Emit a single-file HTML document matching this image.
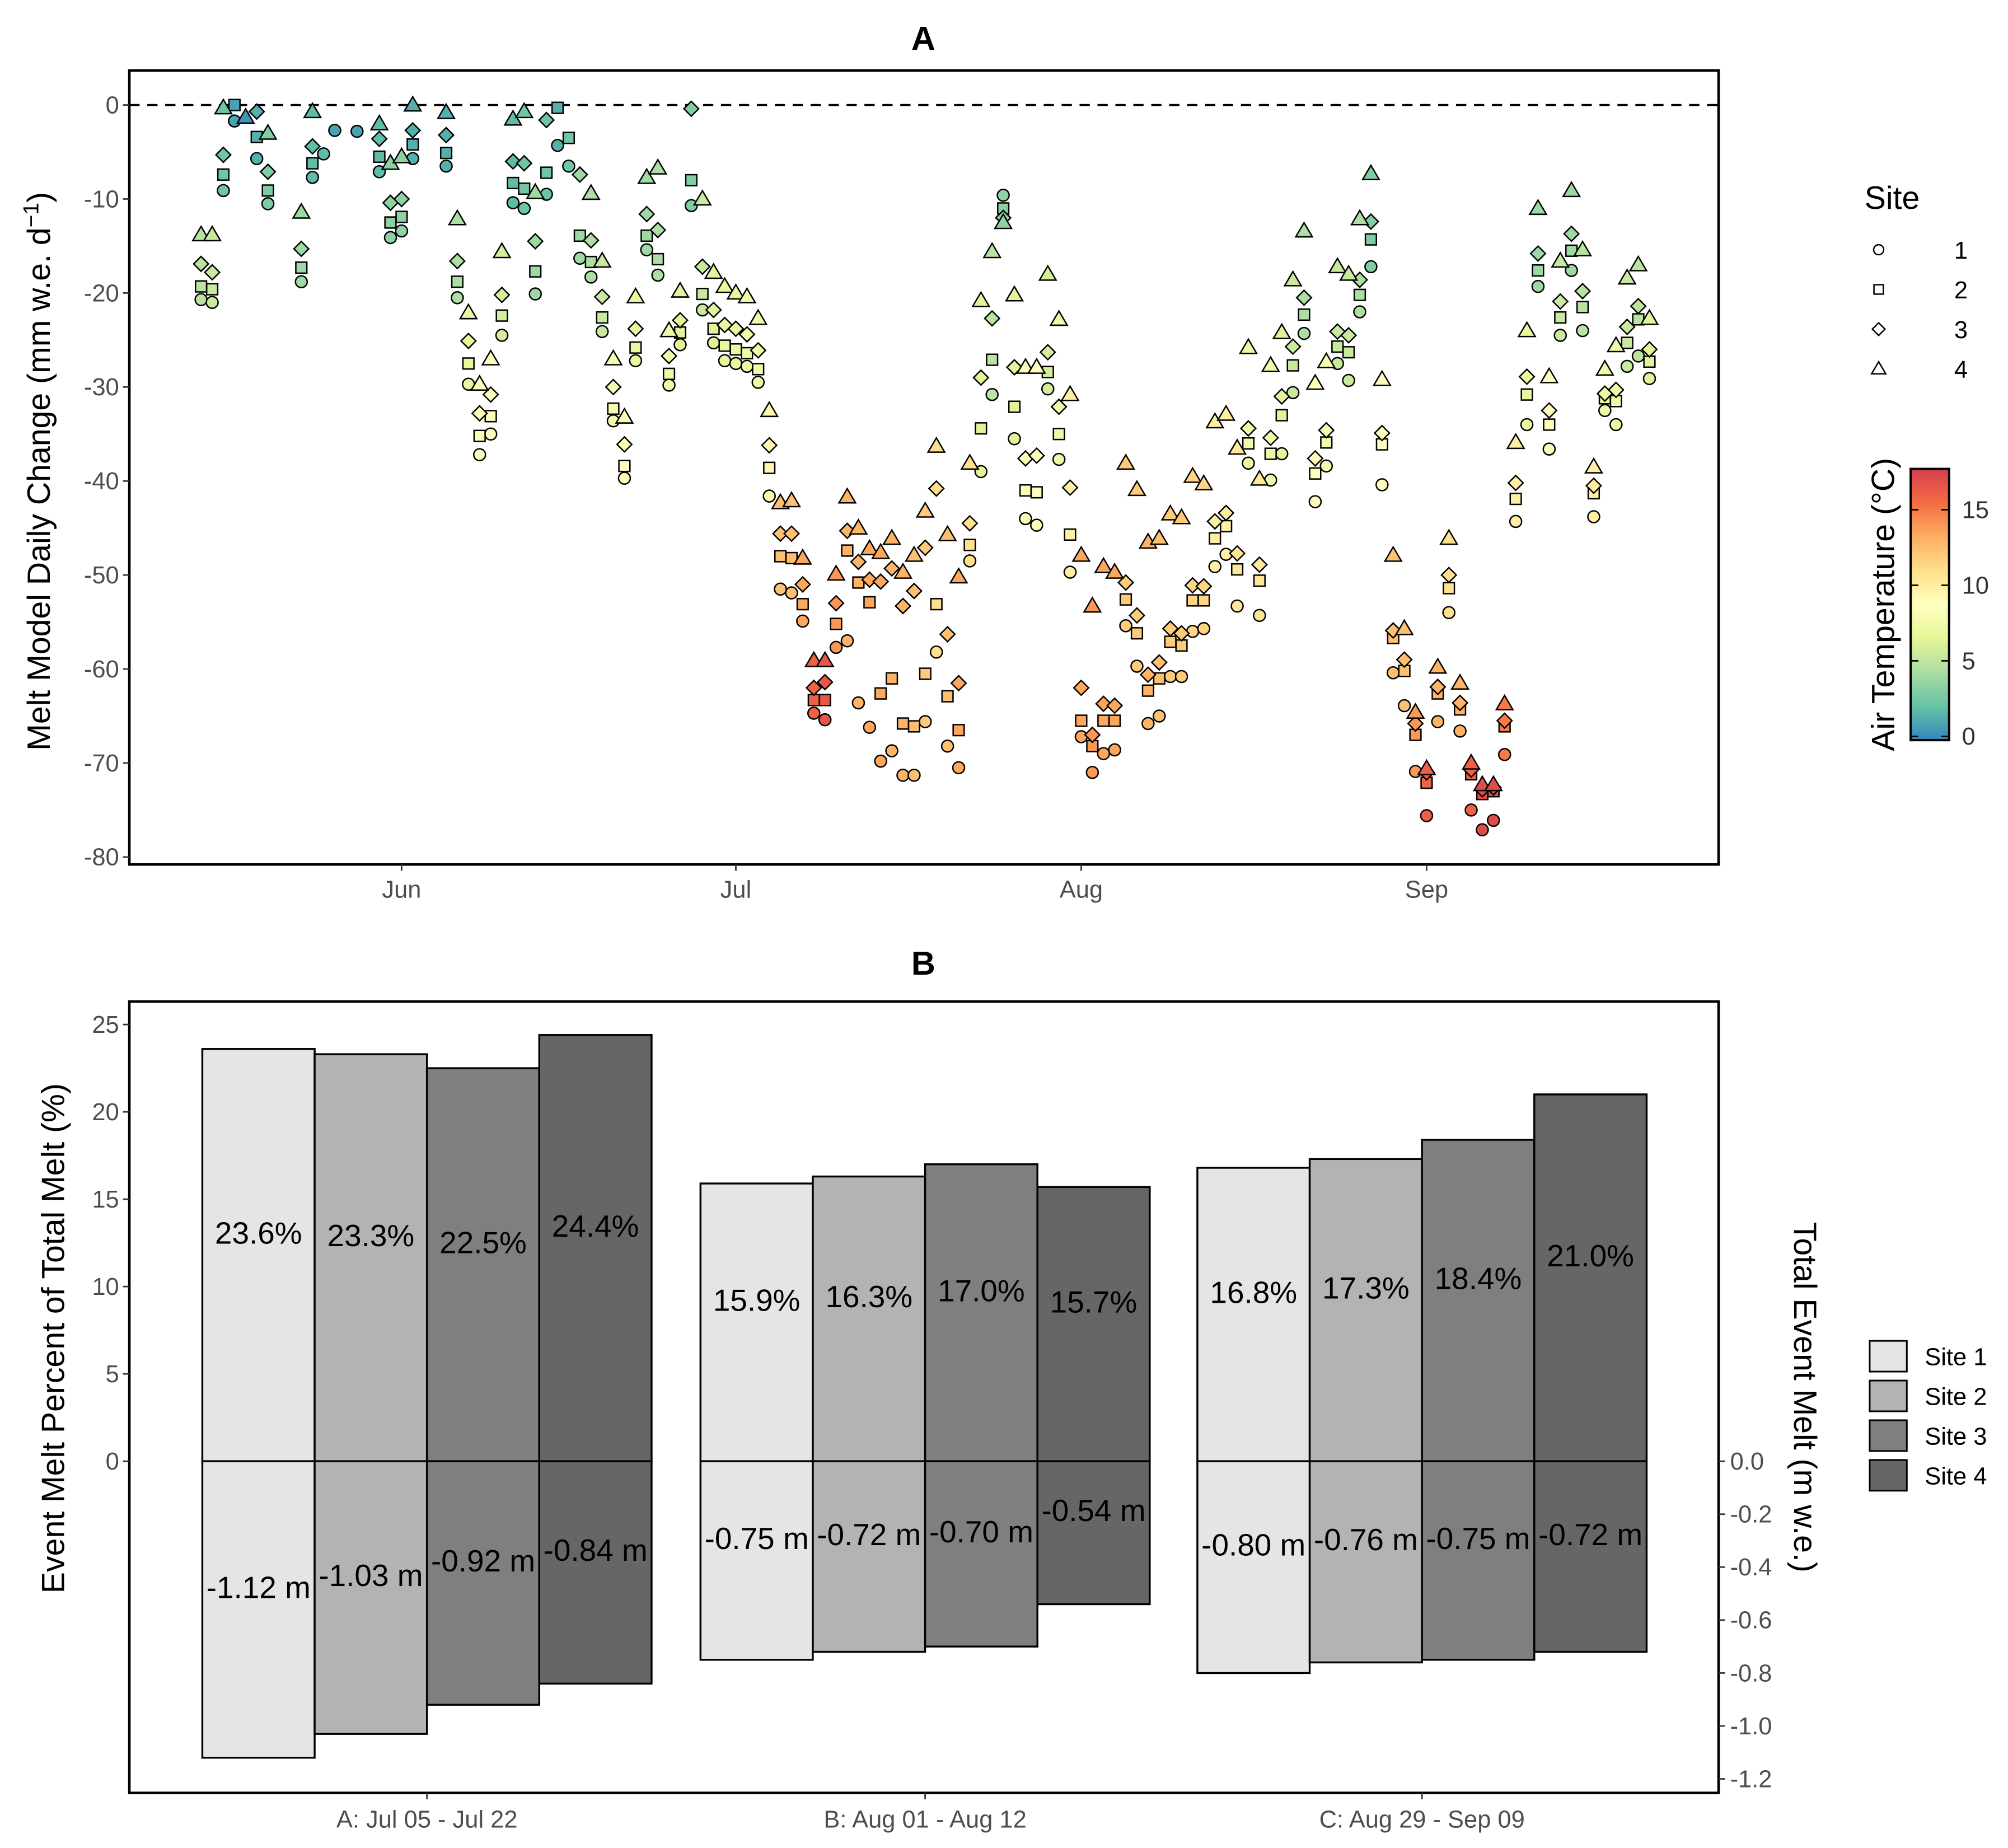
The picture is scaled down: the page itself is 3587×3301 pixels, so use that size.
<!DOCTYPE html>
<html><head><meta charset="utf-8">
<style>
html,body{margin:0;padding:0;background:#fff;}
svg{display:block;font-family:"Liberation Sans",Arial,sans-serif;}
</style></head>
<body>
<svg id="chart" width="3587" height="3301" viewBox="0 0 1568 1443" preserveAspectRatio="none" xmlns="http://www.w3.org/2000/svg">
<rect x="0" y="0" width="1568" height="1443" fill="#fff"/>
<g id="panelA"></g>
<g id="panelB"></g>
</svg>
<script>
// ---------- Panel A data ----------
const doys = [134,135,136,137,138,139,140,143,144,145,146,148,150,151,152,153,156,157,158,159,160,161,162,163,164,165,166,167,168,169,170,171,172,173,174,175,176,177,178,179,180,181,182,183,184,185,186,187,188,189,190,191,192,193,194,195,196,197,198,199,200,201,202,203,204,205,206,207,208,209,210,211,212,213,214,215,216,217,218,219,220,221,222,223,224,225,226,227,228,229,230,231,232,233,234,235,236,237,238,239,240,241,242,243,244,245,246,247,248,249,250,251,252,253,254,255,256,257,258,259,260,261,262,263,264];
const site1 = [-20.7,-21.0,-9.1,-1.7,null,-5.7,-10.5,-18.8,-7.7,-5.2,-2.7,-2.8,-7.1,-14.1,-13.4,-5.7,-6.5,-20.5,-29.7,-37.2,-35.0,-24.5,-10.4,-11.0,-20.1,-9.5,-4.3,-6.5,-16.3,-18.3,-24.1,-33.6,-39.7,-27.2,-15.4,-18.1,-29.8,-25.5,-10.7,-21.8,-25.3,-27.2,-27.5,-27.8,-29.5,-41.6,-51.5,-51.9,-54.9,-64.7,-65.4,-57.7,-57.0,-63.6,-66.2,-69.8,-68.7,-71.3,-71.3,-65.6,-58.2,-68.2,-70.5,-48.5,-39.0,-30.8,-9.6,-35.5,-44.0,-44.7,-30.2,-37.7,-49.7,-67.2,-71.0,-69.0,-68.6,-55.4,-59.7,-65.8,-65.0,-60.8,-60.8,-56.0,-55.7,-49.1,-47.8,-53.3,-38.1,-54.3,-39.9,-37.1,-30.6,-24.3,-42.2,-38.4,-27.5,-29.3,-22.0,-17.2,-40.4,-60.4,-63.9,-70.9,-75.6,-65.6,-54.0,-66.6,-75.0,-77.1,-76.1,-69.1,-44.3,-34.0,-19.3,-36.6,-24.5,-17.6,-24.0,-43.8,-32.5,-34.0,-27.8,-26.7,-29.1];
const site2 = [-19.3,-19.6,-7.4,0,null,-3.4,-9.1,-17.3,-6.2,null,null,null,-5.5,-12.5,-11.9,-4.2,-5.1,-18.8,-27.5,-35.2,-33.1,-22.4,-8.3,-8.9,-17.7,-7.2,-0.3,-3.5,-13.9,-16.7,-22.6,-32.3,-38.4,-25.8,-13.9,-16.4,-28.6,-24.2,-8.0,-20.1,-23.8,-25.6,-26.0,-26.4,-28.1,-38.6,-48.0,-48.2,-53.1,-63.3,-63.3,-55.2,-47.4,-50.8,-52.9,-62.6,-61.0,-65.8,-66.1,-60.5,-53.1,-62.9,-66.5,-46.8,-34.4,-27.1,-11.0,-32.1,-41.0,-41.2,-28.4,-35.0,-45.7,-65.5,-68.2,-65.5,-65.5,-52.6,-56.2,-62.3,-61.0,-57.1,-57.5,-52.7,-52.7,-46.1,-44.8,-49.4,-36.0,-50.6,-37.1,-33.0,-27.7,-22.3,-39.2,-35.9,-25.7,-26.3,-20.2,-14.3,-36.1,-56.7,-60.2,-67.0,-72.1,-62.6,-51.4,-64.3,-71.2,-73.3,-73.0,-66.1,-41.9,-30.8,-17.6,-34.0,-22.6,-15.5,-21.5,-41.3,-31.2,-31.5,-25.3,-22.8,-27.3];
const site3 = [-16.9,-17.8,-5.3,null,null,-0.7,-7.1,-15.3,-4.4,null,null,null,-3.6,-10.4,-10.0,-2.7,-3.2,-16.6,-25.1,-32.8,-30.8,-20.2,-6.0,-6.2,-14.5,-1.6,null,null,-7.4,-14.4,-20.4,-30.0,-36.1,-23.8,-11.6,-13.3,-26.7,-22.9,-0.4,-17.2,-21.8,-23.4,-23.8,-24.4,-26.1,-36.2,-45.6,-45.6,-51.0,-62.0,-61.4,-53.0,-45.3,-48.6,-50.5,-50.7,-49.3,-53.3,-51.7,-47.1,-40.8,-56.3,-61.5,-44.5,-29.0,-22.7,-12.0,-27.9,-37.6,-37.3,-26.3,-32.1,-40.7,-62.0,-67.0,-63.7,-63.9,-50.8,-54.3,-60.6,-59.3,-55.7,-56.2,-51.1,-51.2,-44.3,-43.4,-47.7,-34.4,-48.9,-35.4,-31.0,-25.7,-20.5,-37.6,-34.6,-24.1,-24.5,-18.6,-12.4,-34.9,-55.9,-59.0,-65.8,-71.0,-61.9,-50.0,-63.6,-70.7,-72.8,-72.6,-65.5,-40.2,-28.9,-15.8,-32.5,-20.9,-13.7,-19.8,-40.5,-30.7,-30.3,-23.6,-21.4,-26.0];
const site4 = [-13.8,-13.8,-0.3,null,-1.3,null,-3.0,-11.4,-0.7,null,null,null,-2.0,-6.2,-5.5,0,-0.8,-12.1,-22.1,-29.7,-27.0,-15.6,-1.5,-0.7,-9.3,null,null,null,null,-9.4,-16.6,-27.0,-33.2,-20.4,-7.7,-6.7,-24.0,-19.8,null,-10.0,-17.8,-19.3,-20.0,-20.4,-22.7,-32.5,-42.3,-42.1,-48.2,-59.1,-59.1,-49.9,-41.7,-45.0,-47.2,-47.6,-46.1,-49.7,-47.9,-43.2,-36.3,-45.7,-50.2,-38.1,-20.8,-15.6,-12.5,-20.2,-27.9,-27.9,-18.0,-22.8,-30.8,-47.9,-53.3,-49.1,-49.7,-38.1,-40.9,-46.5,-46.1,-43.5,-43.9,-39.5,-40.3,-33.7,-32.9,-36.5,-25.8,-39.8,-27.7,-24.2,-18.6,-13.4,-29.6,-27.3,-17.2,-18.0,-12.1,-7.3,-29.2,-47.9,-55.7,-64.6,-70.6,-59.8,-46.1,-61.5,-70.0,-72.3,-72.3,-63.7,-35.9,-24.0,-11.0,-28.9,-16.6,-9.1,-15.4,-38.5,-28.1,-25.6,-18.4,-17.0,-22.7];
const airTemp = [5,5.5,2.5,1,0.5,1.5,3,4,2,2,1,1,2,3.5,3.5,1.5,1.5,4.5,7,8.5,8.5,6,2,2.5,4,2.5,1.5,2.5,4,4.5,5.5,8,9,7,4,4.5,7.5,6.5,3,5.5,6.5,7,7,7.5,7.5,9.5,12.5,12.5,13.5,16,16.5,14,13,13,13.5,13.5,13,13,12.5,12,11,12.5,13.5,11,6.5,5,3.5,6.5,8.5,8.5,6,7.5,10,13.5,14,13.5,13.5,12,12,13,12.5,12,12,11.5,11.5,10,10,10.5,7.5,10.5,7.5,6.5,5.5,4.5,9,8,5.5,5.5,4.5,3,9,12.5,12.5,14,16,13,11,13,16,17,17,15,10,7,4,8.5,5.5,4,5,10,7.5,7.5,5.5,5,6.5];
const yTicksA = [0,-10,-20,-30,-40,-50,-60,-70,-80];
const monthTicks = [152,182,213,244];
const monthLabels = ["Jun","Jul","Aug","Sep"];
const colorbarTicks = [0,5,10,15];

// ---------- Panel B data ----------
const eventLabels = ["A: Jul 05 - Jul 22","B: Aug 01 - Aug 12","C: Aug 29 - Sep 09"];
const pctSite1 = [23.6,15.9,16.8];
const pctSite2 = [23.3,16.3,17.3];
const pctSite3 = [22.5,17.0,18.4];
const pctSite4 = [24.4,15.7,21.0];
const meltSite1 = [-1.12,-0.75,-0.80];
const meltSite2 = [-1.03,-0.72,-0.76];
const meltSite3 = [-0.92,-0.70,-0.75];
const meltSite4 = [-0.84,-0.54,-0.72];
const yTicksLeft = [0,5,10,15,20,25];
const yTicksRight = [0.0,-0.2,-0.4,-0.6,-0.8,-1.0,-1.2];
const siteNames = ["Site 1","Site 2","Site 3","Site 4"];
</script>
<script>
const NS="http://www.w3.org/2000/svg";
function mk(tag, parent, attrs, text){
  const e=document.createElementNS(NS,tag);
  for(const k in attrs) e.setAttribute(k,attrs[k]);
  if(text!==undefined) e.textContent=text;
  parent.appendChild(e); return e;
}
const A={l:101,r:1342,t:55,b:675};
const xA = d => 157 + (d-134)*8.70;
const yA = v => 82 - v*7.34;
const tMax=17.7;
const pal=["#3288BD","#66C2A5","#ABDDA4","#E6F598","#FFFFBF","#FEE08B","#FDAE61","#F46D43","#D53E4F"];
function hex2rgb(h){return [1,3,5].map(i=>parseInt(h.substr(i,2),16));}
function tColor(t){
  let f=Math.max(0,Math.min(1,t/tMax))*(pal.length-1);
  let i=Math.min(Math.floor(f),pal.length-2), u=f-i;
  const a=hex2rgb(pal[i]), b=hex2rgb(pal[i+1]);
  return "rgb("+a.map((c,k)=>Math.round(c+(b[k]-c)*u)).join(",")+")";
}
const TICK=19;
const gA=document.getElementById('panelA');
let el;
el=mk('text',gA,{x:721,y:39,'text-anchor':'middle','font-size':26,'font-weight':'bold'},'A');


el=mk('rect',gA,{x:A.l,y:A.t,width:A.r-A.l,height:A.b-A.t,fill:'#fff',stroke:'#000','stroke-width':2});


el=mk('line',gA,{x1:A.l,x2:A.r,y1:yA(0),y2:yA(0),stroke:'#000','stroke-width':1.6,'stroke-dasharray':'8,6'});


yTicksA.forEach(v=>{
  const t=mk('line',gA,{x1:A.l-5,x2:A.l,y1:yA(v),y2:yA(v),stroke:'#333','stroke-width':1.2});
  
  
  const l=mk('text',gA,{x:A.l-8,y:yA(v)+6.5,'text-anchor':'end','font-size':TICK,fill:'#4D4D4D'},String(v));
  
  
});
monthTicks.forEach((d,i)=>{
  const t=mk('line',gA,{x1:xA(d),x2:xA(d),y1:A.b,y2:A.b+5,stroke:'#333','stroke-width':1.2});
  
  
  const l=mk('text',gA,{x:xA(d),y:701,'text-anchor':'middle','font-size':TICK,fill:'#4D4D4D'},monthLabels[i]);
  
  
});
el=mk('text',gA,{transform:'translate(39,368) rotate(-90)','text-anchor':'middle','font-size':25});


el.innerHTML='Melt Model Daily Change (mm w.e. d<tspan dy="-9" font-size="17">−1</tspan><tspan dy="9">)</tspan>';

function marker(parent,site,cx,cy,fill,k){
  k=k||1;
  let e;
  if(site===0) e=mk('circle',parent,{cx:cx,cy:cy,r:4.6*k});
  else if(site===1) e=mk('rect',parent,{x:cx-4.3*k,y:cy-4.3*k,width:8.6*k,height:8.6*k});
  else if(site===2) e=mk('polygon',parent,{points:`${cx},${cy-5.8*k} ${cx+5.8*k},${cy} ${cx},${cy+5.8*k} ${cx-5.8*k},${cy}`});
  else e=mk('polygon',parent,{points:`${cx},${cy-6.5*k} ${cx+6.5*k},${cy+4.6*k} ${cx-6.5*k},${cy+4.6*k}`});
  e.setAttribute('fill',fill); e.setAttribute('stroke','#000'); e.setAttribute('stroke-width',1.1);
  return e;
}
const series=[site1,site2,site3,site4];
const ptsG=mk('g',gA,{});


[0,1,2,3].forEach(s=>{
  doys.forEach((d,i)=>{
    const v=series[s][i];
    if(v===null||v===undefined) return;
    const p=marker(ptsG,s,xA(d),yA(v),tColor(airTemp[i]));
    
    
  });
});
el=mk('text',gA,{x:1456,y:163,'font-size':25},'Site');


const legY=[195,226,257,288];
legY.forEach((y,i)=>{
  const m=marker(gA,i,1467,y,'none',0.85);
  
  
  const l=mk('text',gA,{x:1526,y:y+7,'font-size':19},String(i+1));
  
  
});
const cb={x:1492,w:30};
const yCb = t => 575 - t*11.8;
const defs=mk('defs',gA,{});
const grad=mk('linearGradient',defs,{id:'cbgrad',x1:0,y1:1,x2:0,y2:0});
pal.forEach((c,i)=>mk('stop',grad,{offset:(i/(pal.length-1)),'stop-color':c}));
el=mk('rect',gA,{x:cb.x,y:yCb(tMax),width:cb.w,height:yCb(-0.25)-yCb(tMax),fill:'url(#cbgrad)',stroke:'#000','stroke-width':1.8});


colorbarTicks.forEach(t=>{
  mk('line',gA,{x1:cb.x,x2:cb.x+6,y1:yCb(t),y2:yCb(t),stroke:'#000','stroke-width':1.2});
  mk('line',gA,{x1:cb.x+cb.w-6,x2:cb.x+cb.w,y1:yCb(t),y2:yCb(t),stroke:'#000','stroke-width':1.2});
  const l=mk('text',gA,{x:1532,y:yCb(t)+6.5,'font-size':TICK,fill:'#333'},String(t));
  
  
});
el=mk('text',gA,{transform:'translate(1479,472) rotate(-90)','text-anchor':'middle','font-size':25},'Air Temperature (°C)');



// ---------- Panel B ----------
const gB=document.getElementById('panelB');
const B={l:101,r:1342,t:782,b:1400};
const yL = v => 1141 - v*13.64;
const yR = v => 1141 - v*206.7;
const barW=87.7;
const groupStart=[158,547,935];
const fills=["#E5E5E5","#B3B3B3","#7F7F7F","#666666"];
const pcts=[pctSite1,pctSite2,pctSite3,pctSite4];
const melts=[meltSite1,meltSite2,meltSite3,meltSite4];
el=mk('text',gB,{x:721,y:761,'text-anchor':'middle','font-size':26,'font-weight':'bold'},'B');


el=mk('rect',gB,{x:B.l,y:B.t,width:B.r-B.l,height:B.b-B.t,fill:'#fff',stroke:'#000','stroke-width':2});


eventLabels.forEach((lab,g)=>{
  for(let s=0;s<4;s++){
    const x=groupStart[g]+s*barW;
    const p=pcts[s][g], m=melts[s][g];
    const r1=mk('rect',gB,{x:x,y:yL(p),width:barW,height:yL(0)-yL(p),fill:fills[s],stroke:'#000','stroke-width':1.5});
    
    
    const r2=mk('rect',gB,{x:x,y:yR(0),width:barW,height:yR(m)-yR(0),fill:fills[s],stroke:'#000','stroke-width':1.5});
    
    
    const t1=mk('text',gB,{x:x+barW/2,y:(yL(p)+yL(0))/2-9,'text-anchor':'middle','font-size':24},p.toFixed(1)+'%');
    
    
    const t2=mk('text',gB,{x:x+barW/2,y:(yR(m)+yR(0))/2-9,'text-anchor':'middle','font-size':24},m.toFixed(2)+' m');
    
    
  }
  const cx=groupStart[g]+2*barW;
  const tk=mk('line',gB,{x1:cx,x2:cx,y1:B.b,y2:B.b+5,stroke:'#333','stroke-width':1.2});
  
  
  const l=mk('text',gB,{x:cx,y:1427,'text-anchor':'middle','font-size':TICK,fill:'#4D4D4D'},lab);
  
  
});
yTicksLeft.forEach(v=>{
  mk('line',gB,{x1:B.l-5,x2:B.l,y1:yL(v),y2:yL(v),stroke:'#333','stroke-width':1.2});
  const l=mk('text',gB,{x:B.l-8,y:yL(v)+6.5,'text-anchor':'end','font-size':TICK,fill:'#4D4D4D'},String(v));
  
  
});
yTicksRight.forEach(v=>{
  mk('line',gB,{x1:B.r,x2:B.r+5,y1:yR(v),y2:yR(v),stroke:'#333','stroke-width':1.2});
  const l=mk('text',gB,{x:B.r+9,y:yR(v)+6.5,'font-size':TICK,fill:'#4D4D4D'},v.toFixed(1));
  
  
});
el=mk('text',gB,{transform:'translate(50,1045) rotate(-90)','text-anchor':'middle','font-size':25},'Event Melt Percent of Total Melt (%)');


el=mk('text',gB,{transform:'translate(1401,1091) rotate(90)','text-anchor':'middle','font-size':25},'Total Event Melt (m w.e.)');


siteNames.forEach((n,i)=>{
  const y=1047+i*31;
  const k=mk('rect',gB,{x:1460,y:y,width:29,height:24,fill:fills[i],stroke:'#000','stroke-width':1.3});
  
  
  const l=mk('text',gB,{x:1503,y:y+19,'font-size':19},n);
  
  
});
</script>
</body></html>
